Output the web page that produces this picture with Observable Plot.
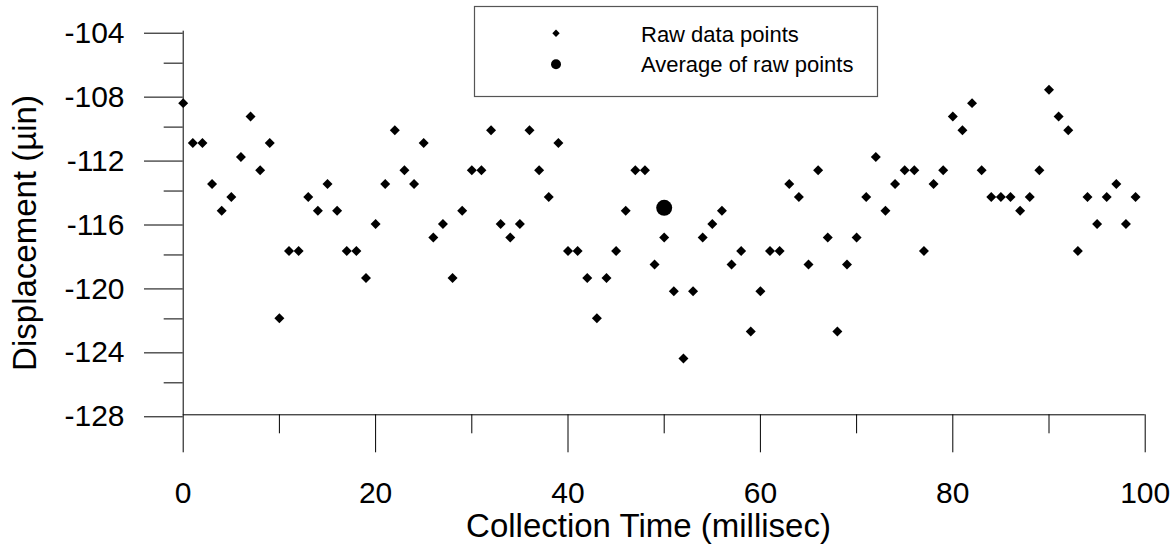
<!DOCTYPE html>
<html>
<head>
<meta charset="utf-8">
<script src="https://cdn.jsdelivr.net/npm/d3@7"></script>
<script src="https://cdn.jsdelivr.net/npm/@observablehq/plot@0.6"></script>
<style>
  html, body { margin: 0; padding: 0; background: #fff; overflow: hidden; }
  #wrap { position: relative; width: 1171px; height: 544px; font-family: "Liberation Sans", Arial, sans-serif; }
  #legend { position: absolute; left: 0; top: 0; }
  #wrap svg { display: block; }
</style>
</head>
<body>
<div id="wrap"></div>
<script>
// ---- data ----
const time = [0,1,2,3,4,5,6,7,8,9,10,11,12,13,14,15,16,17,18,19,
  20,21,22,23,24,25,26,27,28,29,30,31,32,33,34,35,36,37,38,39,
  40,41,42,43,44,45,46,47,48,49,50,51,52,53,54,55,56,57,58,59,
  60,61,62,63,64,65,66,67,68,69,70,71,72,73,74,75,76,77,78,79,
  80,81,82,83,84,85,86,87,88,89,90,91,92,93,94,95,96,97,98,99];
const displacement = [
  -108.50,-111.00,-111.00,-113.56,-115.23,-114.37,-111.87,-109.33,-112.70,-111.00,
  -121.96,-117.75,-117.75,-114.37,-115.23,-113.56,-115.23,-117.75,-117.75,-119.44,
  -116.06,-113.56,-110.19,-112.70,-113.56,-111.00,-116.91,-116.06,-119.44,-115.23,
  -112.70,-112.70,-110.19,-116.06,-116.91,-116.06,-110.19,-112.70,-114.37,-111.00,
  -117.75,-117.75,-119.44,-121.96,-119.44,-117.75,-115.23,-112.70,-112.70,-118.60,
  -116.91,-120.27,-124.48,-120.27,-116.91,-116.06,-115.23,-118.60,-117.75,-122.79,
  -120.27,-117.75,-117.75,-113.56,-114.37,-118.60,-112.70,-116.91,-122.79,-118.60,
  -116.91,-114.37,-111.87,-115.23,-113.56,-112.70,-112.70,-117.75,-113.56,-112.70,
  -109.33,-110.19,-108.50,-112.70,-114.37,-114.37,-114.37,-115.23,-114.37,-112.70,
  -107.66,-109.33,-110.19,-117.75,-114.37,-116.06,-114.37,-113.56,-116.06,-114.37];
const avgTime = [50];
const avgDisplacement = [-115.05];

const yMajor = [-128,-124,-120,-116,-112,-108,-104];
const yMinor = [-126,-122,-118,-114,-110,-106];
const xMajor = [0,20,40,60,80,100];
const xMinor = [10,30,50,70,90];
const xTitle = "Collection Time (millisec)";
const yTitle = "Displacement (\u00b5in)";
const legendLabels = ["Raw data points", "Average of raw points"];

// ---- layout ----
const W = 1171, H = 544;
const mL = 182.7, mR = W - 1144.7, mT = 30.7, mB = H - 414.3;
const FONT = '"Liberation Sans", Arial, sans-serif';

const raw = time.map((t, i) => ({t, v: displacement[i]}));
const avg = avgTime.map((t, i) => ({t, v: avgDisplacement[i]}));

const chart = Plot.plot({
  width: W, height: H,
  marginLeft: mL, marginRight: mR, marginTop: mT, marginBottom: mB,
  x: {domain: [0, 100]},
  y: {domain: [-128, -104]},
  style: {fontFamily: FONT, background: "white", color: "black", overflow: "visible"},
  marks: [
    Plot.axisY({ticks: yMinor, tickSize: 19, tickFormat: () => "", label: null, stroke: "black"}),
    Plot.axisY({ticks: yMajor, tickSize: 38.7, tickPadding: 20, fontSize: 30, dy: 2,
      tickFormat: d => String(d), label: null, stroke: "black", fill: "black"}),
    Plot.axisX({ticks: xMinor, tickSize: 19, tickFormat: () => "", label: null, stroke: "black"}),
    Plot.axisX({ticks: xMajor, tickSize: 38, tickPadding: 28.5, fontSize: 30,
      tickFormat: d => String(d), label: null, stroke: "black", fill: "black"}),
    Plot.ruleX([0], {y1: -128, y2: -104, stroke: "black"}),
    Plot.ruleY([-128], {x1: 0, x2: 100, stroke: "black"}),
    Plot.dot(raw, {x: "t", y: "v", symbol: "diamond2", r: 4.5, fill: "black", stroke: null}),
    Plot.dot(avg, {x: "t", y: "v", symbol: "circle", r: 8, fill: "black", stroke: null}),
    Plot.text([xTitle], {text: d => d, frameAnchor: "bottom", dx: 648 - (mL + (W - mR)) / 2, dy: 536 - (H - mB),
      lineAnchor: "bottom", textAnchor: "middle", fontSize: 33, fill: "black"}),
    Plot.text([yTitle], {text: d => d, frameAnchor: "left", rotate: -90, dx: 35 - mL, dy: 232.5 - (mT + (H - mB)) / 2,
      lineAnchor: "bottom", textAnchor: "middle", fontSize: 33, fill: "black"})
  ]
});

const wrap = document.getElementById("wrap");
wrap.appendChild(chart);

// ---- legend (overlay) ----
const lg = d3.select(wrap).append("svg")
  .attr("id", "legend")
  .attr("width", W).attr("height", 110)
  .style("pointer-events", "none");
lg.append("rect")
  .attr("x", 474.5).attr("y", 6.5).attr("width", 403).attr("height", 90)
  .attr("fill", "white").attr("stroke", "#555").attr("stroke-width", 1.2);
lg.append("path")
  .attr("transform", "translate(556,33.3)")
  .attr("d", d3.symbol(d3.symbolDiamond2, Math.pow(3.7 / 0.62625, 2))())
  .attr("fill", "black");
lg.append("circle").attr("cx", 556).attr("cy", 64.3).attr("r", 5).attr("fill", "black");
lg.selectAll("text.lab").data(legendLabels).join("text")
  .attr("class", "lab")
  .attr("x", 641).attr("y", (d, i) => i === 0 ? 41.7 : 71.7)
  .attr("font-family", FONT).attr("font-size", 22).attr("fill", "black")
  .text(d => d);
</script>
</body>
</html>
